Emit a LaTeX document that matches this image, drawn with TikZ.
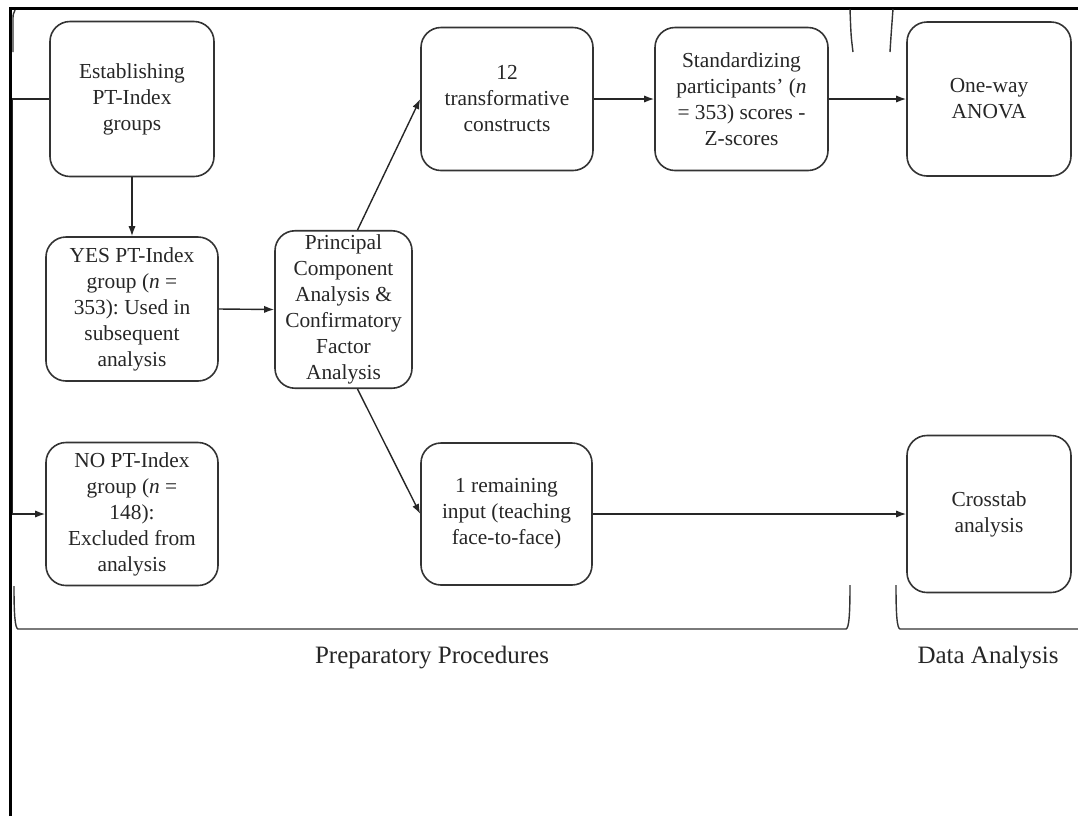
\documentclass[tikz,border=0pt]{standalone}
\usepackage{fontspec}
\setmainfont{Liberation Serif}
\usepackage{tikz}
\usetikzlibrary{arrows.meta}
\frenchspacing

\begin{document}
\begin{tikzpicture}[x=0.5pt,y=-0.5pt,
  stagebox/.style={draw=black!80,line width=0.8pt,rounded corners=10pt,align=center,inner sep=2pt,text=black!85,font=\fontsize{10.7}{13}\selectfont},
  flow/.style={draw=black!85,line width=0.7pt,-{Latex[length=5pt,width=3.6pt]}},
  bracketline/.style={draw=black!80,line width=0.7pt},
  phase/.style={text=black!85,font=\fontsize{12.5}{15}\selectfont}]
\useasboundingbox (0,0) rectangle (1078,816);
\draw[line width=1.5pt] (10,816) -- (10,8) -- (1078,8);
\node[stagebox,minimum width=82pt,minimum height=77.5pt] (est) at (132,99) {Establishing\\PT-Index\\groups};
\node[stagebox,minimum width=86pt,minimum height=72pt] (yes) at (132,309) {YES PT-Index\\group (\textit{n} =\\353): Used in\\subsequent\\analysis};
\node[stagebox,minimum width=86pt,minimum height=71.5pt] (no) at (132,514) {NO PT-Index\\group (\textit{n} =\\148):\\Excluded from\\analysis};
\node[stagebox,minimum width=68.5pt,minimum height=78.5pt] (pca) at (343.5,309.5) {Principal\\Component\\Analysis \&\\Confirmatory\\Factor\\Analysis};
\node[stagebox,minimum width=86pt,minimum height=71.5pt] (trans) at (507,99) {12\\transformative\\constructs};
\node[stagebox,minimum width=86.5pt,minimum height=71.5pt] (std) at (741.5,99) {Standardizing\\participants’ (\textit{n}\\= 353) scores -\\Z-scores};
\node[stagebox,minimum width=82pt,minimum height=77pt] (anova) at (989,99) {One-way\\ANOVA};
\node[stagebox,minimum width=85.5pt,minimum height=71pt] (rem) at (506.5,514) {1 remaining\\input (teaching\\face-to-face)};
\node[stagebox,minimum width=82pt,minimum height=78.5pt] (cross) at (989,514) {Crosstab\\analysis};
\draw[flow] (est.south) -- (yes.north);
\draw[flow] (yes.east) -- (pca.west);
\draw[flow] (pca.80) -- (trans.west);
\draw[flow] (pca.-80) -- (rem.west);
\draw[flow] (trans.east) -- (std.west);
\draw[flow] (std.east) -- (anova.west);
\draw[flow] (rem.east) -- (cross.west);
\draw[flow] (est.west) -- ++(-37,0) |- (no.west);
\draw[bracketline] (15,10) .. controls (13,14) .. (13,22) -- (13,52);
\draw[bracketline] (850,9) .. controls (851,36) .. (853,52);
\draw[bracketline] (893,9) .. controls (891,36) .. (890,52);
\draw[bracketline] (14,586) .. controls (14,615) and (15,628) .. (18,629) -- (846,629) .. controls (849,628) and (850,615) .. (850,585);
\draw[bracketline] (896,585) .. controls (896,615) and (897,628) .. (900,629) -- (1078,629);
\node[phase] (prep) at (432,658) {Preparatory Procedures};
\node[phase] (data) at (988,658) {Data Analysis};
\end{tikzpicture}
\end{document}
